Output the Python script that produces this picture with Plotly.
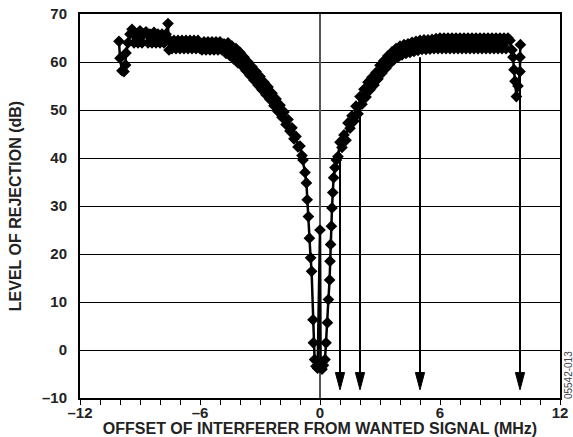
import plotly.graph_objects as go

# ---- data ----
offset_mhz = [
    -10.05, -10.0, -9.9, -9.8, -9.72, -9.7, -9.6,
    -9.5, -9.4, -9.3, -9.2, -9.1, -9.0, -8.9, -8.8, -8.7, -8.6, -8.5, -8.4, -8.3, -8.2, -8.1, -8.0,
    -7.9, -7.8, -7.7, -7.6, -7.55, -7.5, -7.4, -7.3, -7.2, -7.1, -7.0, -6.9, -6.8, -6.7, -6.6, -6.5,
    -6.4, -6.3, -6.2, -6.1, -6.0, -5.9, -5.8, -5.7, -5.6, -5.5, -5.4, -5.3, -5.2, -5.1, -5.0, -4.9,
    -4.8, -4.7, -4.6, -4.5, -4.4, -4.3, -4.2, -4.1, -4.0, -3.9, -3.8, -3.7, -3.6, -3.5, -3.4, -3.3,
    -3.2, -3.1, -3.0, -2.9, -2.8, -2.7, -2.6, -2.5, -2.4, -2.3, -2.2, -2.1, -2.0, -1.9, -1.8, -1.7,
    -1.6, -1.5, -1.4, -1.3, -1.2, -1.1, -1.0, -0.9,
    -0.85, -0.75, -0.68, -0.64, -0.58, -0.53, -0.47, -0.42, -0.35, -0.33, -0.27, -0.2, -0.12,
    0.0, 0.03, 0.1, 0.17, 0.25, 0.3, 0.37, 0.42, 0.48, 0.5, 0.53, 0.57, 0.6, 0.64, 0.68, 0.75, 0.82,
    0.9, 1.0, 1.1, 1.2, 1.3, 1.4, 1.5, 1.6, 1.7, 1.8, 1.9, 2.0, 2.1, 2.2, 2.3, 2.4, 2.5, 2.6, 2.7,
    2.8, 2.9, 3.0, 3.1, 3.2, 3.3, 3.4, 3.5, 3.6, 3.7, 3.8, 3.9, 4.0, 4.1, 4.2, 4.3, 4.4, 4.5, 4.6,
    4.7, 4.8, 4.9, 5.0, 5.1, 5.2, 5.3, 5.4, 5.5, 5.6, 5.7, 5.8, 5.9, 6.0,
    6.1, 6.2, 6.3, 6.4, 6.5, 6.6, 6.7, 6.8, 6.9, 7.0, 7.1, 7.2, 7.3, 7.4, 7.5, 7.6, 7.7, 7.8, 7.9,
    8.0, 8.1, 8.2, 8.3, 8.4, 8.5, 8.6, 8.7, 8.8, 8.9, 9.0, 9.1, 9.2, 9.3, 9.4,
    9.5, 9.6, 9.65, 9.7, 9.75, 9.82, 9.9, 10.0, 10.0, 10.02,
]
rejection_db = [
    64.3, 60.8, 58.2, 58.0, 59.4, 61.9, 64.0,
    65.8, 66.8, 64.0, 65.8, 64.0, 66.5, 64.0, 65.8, 66.3, 64.0, 65.8, 64.0, 66.2, 64.0, 65.8, 64.0,
    65.8, 64.0, 65.8, 68.0, 62.5, 64.5, 62.8, 64.5, 62.8, 64.5, 62.8, 64.5, 62.8, 64.5, 62.8, 64.5,
    62.8, 64.5, 62.8, 64.5, 62.8, 62.5, 64.2, 62.5, 64.2, 62.5, 64.2, 62.5, 64.2, 62.5, 64.2, 62.5,
    63.8, 61.8, 64.0, 61.3, 63.3, 60.6, 62.8, 59.8, 62.0, 59.2, 61.0, 58.2, 60.0, 57.2, 59.0, 56.2,
    58.0, 55.2, 57.0, 54.2, 55.8, 53.2, 54.8, 52.2, 53.5, 50.9, 52.3, 49.7, 51.0, 48.5, 49.6, 47.0,
    48.0, 45.6, 46.3, 44.0, 44.5, 42.3, 42.5, 40.5,
    39.6, 37.0, 34.8, 31.3, 27.8, 23.3, 19.2, 16.4, 6.3, 1.5, -2.0, -3.4, -3.8,
    25.0, -3.0, -4.0, -3.2, -2.0, 1.5, 5.7, 10.5, 14.6, 18.5, 22.0, 25.8, 29.6, 32.8, 35.9, 38.0, 39.6,
    40.3, 43.3, 42.2, 44.8, 43.7, 47.3, 46.2, 48.8, 47.7, 50.8, 49.2, 52.8, 51.2, 54.3, 52.7, 55.8, 54.2, 56.8, 55.2,
    57.8, 56.5, 59.3, 57.7, 60.3, 58.7, 61.3, 59.7, 62.1, 60.5, 62.8, 61.0, 63.3, 61.5, 63.6, 61.8, 63.8, 62.0, 64.1,
    62.2, 64.3, 62.4, 64.5, 62.6, 64.6, 62.6, 64.6, 62.7, 64.7, 62.8, 64.9, 62.8, 65.0,
    62.8, 65.0, 62.8, 65.0, 62.8, 65.0, 62.8, 65.0, 62.8, 65.0, 62.8, 65.0, 62.8, 65.0, 62.8, 65.0, 62.8, 65.0, 62.8,
    65.0, 62.8, 65.0, 62.8, 65.0, 62.8, 65.0, 62.8, 65.0, 62.8, 65.0, 62.8, 65.0, 62.8, 65.0,
    64.5, 62.5, 61.0, 58.4, 56.0, 52.8, 55.0, 58.0, 61.0, 63.6,
]

# arrows marking offsets of interest
arrow_x = [1, 2, 5, 10]
arrow_top_db = [41.0, 51.0, 61.0, 63.6]
arrow_tip_db = -8.3

x_ticks = [-12, -6, 0, 6, 12]
x_tick_text = ["\u201312", "\u20136", "0", "6", "12"]
y_ticks = [-10, 0, 10, 20, 30, 40, 50, 60, 70]
y_tick_text = ["\u201310", "0", "10", "20", "30", "40", "50", "60", "70"]

HEAD_LEN = 3.6      # dB
HEAD_HALF_W = 0.23  # MHz

FONT = "Liberation Sans, Arial, sans-serif"

fig = go.Figure()

# arrow shafts and heads
for xa, top in zip(arrow_x, arrow_top_db):
    fig.add_trace(go.Scatter(
        x=[xa, xa], y=[top, arrow_tip_db + HEAD_LEN], mode="lines",
        line=dict(color="black", width=2), hoverinfo="skip", showlegend=False))
    fig.add_trace(go.Scatter(
        x=[xa - HEAD_HALF_W, xa + HEAD_HALF_W, xa, xa - HEAD_HALF_W],
        y=[arrow_tip_db + HEAD_LEN, arrow_tip_db + HEAD_LEN, arrow_tip_db, arrow_tip_db + HEAD_LEN],
        mode="lines", fill="toself", fillcolor="black",
        line=dict(color="black", width=1), hoverinfo="skip", showlegend=False))

fig.add_trace(go.Scatter(
    x=offset_mhz, y=rejection_db, mode="lines+markers",
    line=dict(color="black", width=2.5),
    marker=dict(symbol="diamond", size=9, color="black"),
    showlegend=False))

tick_font = dict(family=FONT, size=15, color="#222", weight="bold")
title_font = dict(family=FONT, size=16, color="#222", weight="bold")

fig.update_layout(
    width=573, height=437,
    margin=dict(l=80, r=13, t=14, b=39),
    paper_bgcolor="white", plot_bgcolor="white",
    showlegend=False,
    xaxis=dict(
        range=[-12, 12], tickvals=x_ticks, ticktext=["<b>%s</b>" % t for t in x_tick_text],
        ticks="outside", ticklen=5, tickwidth=1, tickcolor="black",
        minor=dict(dtick=1, ticks="outside", ticklen=5, tickwidth=1, tickcolor="black", showgrid=False),
        showgrid=False, zeroline=True, zerolinecolor="#555", zerolinewidth=1.5,
        showline=True, linecolor="black", linewidth=2, mirror=True,
        tickfont=tick_font, ticklabelstandoff=-5, automargin=False,
        title=dict(text="OFFSET OF INTERFERER FROM WANTED SIGNAL (MHz)", font=title_font, standoff=2),
    ),
    yaxis=dict(
        range=[-10, 70], tickvals=y_ticks, ticktext=["<b>%s</b>" % t for t in y_tick_text],
        ticks="", showgrid=True, gridcolor="black", gridwidth=1.2,
        zeroline=False,
        showline=True, linecolor="black", linewidth=2, mirror=True,
        tickfont=tick_font, ticklabelstandoff=8, automargin=False,
        title=dict(text="LEVEL OF REJECTION (dB)", font=title_font, standoff=16),
    ),
    annotations=[dict(
        text="05542-013", xref="paper", yref="paper", x=1.019, y=0.06,
        xanchor="center", yanchor="middle",
        showarrow=False, textangle=-90,
        font=dict(family=FONT, size=10, color="#444"),
    )],
)

fig.write_html("out.html", config={"displayModeBar": False},
               post_script="document.body.style.margin='0';document.body.style.overflow='hidden';")
